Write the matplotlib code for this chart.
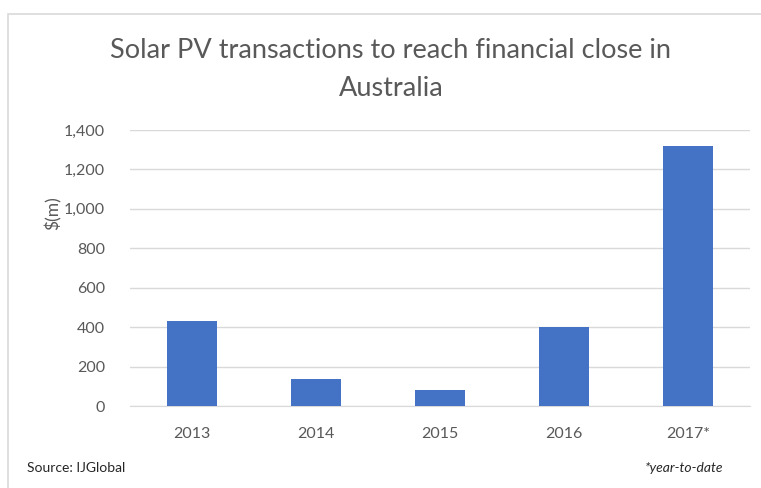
import numpy as np
import matplotlib.pyplot as plt
from matplotlib.patches import Rectangle

years = ["2013", "2014", "2015", "2016", "2017*"]
values = [431, 137, 81, 400, 1319]  # $m
yticks = [0, 200, 400, 600, 800, 1000, 1200, 1400]

plt.rcParams['font.family'] = ['Lato', 'DejaVu Sans']
grey = '#595959'

W, H = 761, 488
fig = plt.figure(figsize=(W/100, H/100), dpi=100)

# outer chart border (light grey frame)
fig.patches.append(Rectangle((8/W, -0.05), 1.0, 1 - 14/H + 0.05, transform=fig.transFigure,
                             fill=False, edgecolor='#d9d9d9', linewidth=1.2))

ax = fig.add_axes([130/W, 1 - 406/H, 620/W, 276/H])
x = np.arange(len(years))
ax.bar(x, values, width=0.4, color='#4472c4', zorder=3)
ax.set_xlim(-0.5, len(years) - 0.5)
ax.set_ylim(0, 1400)
ax.set_yticks(yticks)
ax.set_yticklabels([f"{v:,}" for v in yticks])
ax.set_xticks(x)
ax.set_xticklabels(years)
ax.grid(axis='y', color='#d9d9d9', linewidth=1, zorder=0)
for s in ['top', 'right', 'left']:
    ax.spines[s].set_visible(False)
ax.spines['bottom'].set_color('#d9d9d9')
ax.tick_params(axis='both', length=0, colors=grey, labelsize=11.5)
ax.tick_params(axis='y', pad=18)
ax.tick_params(axis='x', pad=15)
ax.set_ylabel("$(m)", color=grey, fontsize=12.5, labelpad=4)
ax.yaxis.set_label_coords(-0.11, 0.7)

fig.text(391/W, 1 - 50/H, "Solar PV transactions to reach financial close in", ha='center',
         va='center', fontsize=19.5, color=grey)
fig.text(391/W, 1 - 88/H, "Australia", ha='center', va='center', fontsize=19.5, color=grey)

fig.text(27/W, 1 - 468/H, "Source: IJGlobal", ha='left', va='center', fontsize=10, color='#262626')
fig.text(723/W, 1 - 468/H, "*year-to-date", ha='right', va='center', fontsize=10,
         color='#262626', style='italic')

fig.savefig("out.png", dpi=100, facecolor='white')
